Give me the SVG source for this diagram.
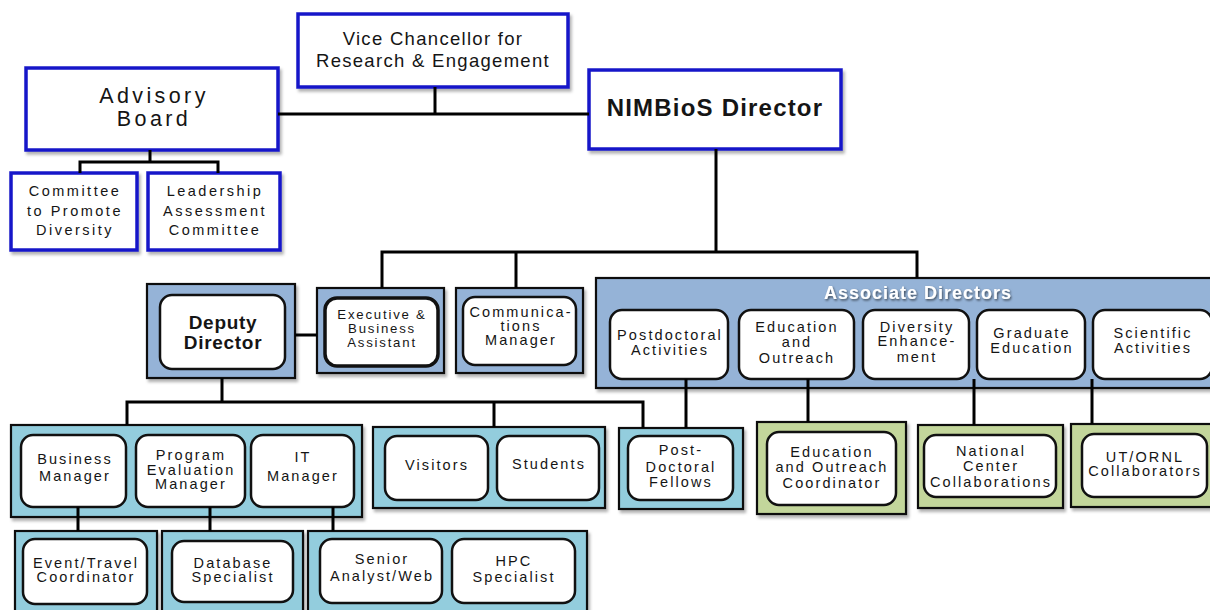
<svg xmlns="http://www.w3.org/2000/svg" width="1210" height="610" viewBox="0 0 1210 610">
<defs>
<filter id="sh" x="-10%" y="-10%" width="130%" height="140%"><feDropShadow dx="2" dy="3" stdDeviation="1.8" flood-color="#000" flood-opacity="0.3"/></filter>
<filter id="tsh" x="-10%" y="-30%" width="120%" height="170%"><feDropShadow dx="1" dy="1.5" stdDeviation="0.8" flood-color="#000" flood-opacity="0.6"/></filter>
<style>
.blue{fill:#fff;stroke:#1717c9;stroke-width:3.5}
.grp{stroke:#111;stroke-width:2.2}
.steel{fill:#95b3d7}
.cyan{fill:#93cddd}
.green{fill:#c3d69b}
.inner{fill:#fff;stroke:#111;stroke-width:2.5}
.conn path{stroke:#000;stroke-width:3;fill:none}
text{font-family:"Liberation Sans",Arial,sans-serif;fill:#151515;text-anchor:middle;dominant-baseline:central}
.t{font-size:14.5px;letter-spacing:2.1px}
.tc{font-size:14.5px;letter-spacing:2.5px}
.te{font-size:13.2px;letter-spacing:1.8px}
</style>
</defs>

<g id="vice"><rect class="blue" x="298" y="14" width="270" height="73" filter="url(#sh)"/>
<text x="433" y="38" style="font-size:18.5px;letter-spacing:1.3px">Vice Chancellor for</text>
<text x="433" y="60" style="font-size:18.5px;letter-spacing:1.3px">Research &amp; Engagement</text></g>

<g id="advisory"><rect class="blue" x="26" y="68" width="252" height="82" filter="url(#sh)"/>
<text x="154" y="96" style="font-size:21.5px;letter-spacing:3.4px">Advisory</text>
<text x="154" y="119" style="font-size:21.5px;letter-spacing:3.4px">Board</text></g>

<g id="director"><rect class="blue" x="589" y="70" width="252" height="79" filter="url(#sh)"/>
<text x="715" y="107" style="font-size:24px;font-weight:bold;letter-spacing:1.2px">NIMBioS Director</text></g>

<g id="committee"><rect class="blue" x="11" y="173" width="126" height="77" filter="url(#sh)"/>
<text class="tc" x="75" y="191">Committee</text><text class="tc" x="75" y="211">to Promote</text><text class="tc" x="75" y="230">Diversity</text></g>

<g id="leadership"><rect class="blue" x="148" y="173" width="132" height="77" filter="url(#sh)"/>
<text class="tc" x="215" y="191">Leadership</text><text class="tc" x="215" y="211">Assessment</text><text class="tc" x="215" y="230">Committee</text></g>

<g id="deputy"><rect class="grp steel" x="147" y="284" width="148" height="94" filter="url(#sh)"/>
<rect class="inner" x="160" y="295" width="125" height="74" rx="12"/>
<text x="223" y="322" style="font-size:19px;font-weight:bold;letter-spacing:0.7px">Deputy</text>
<text x="223" y="342" style="font-size:19px;font-weight:bold;letter-spacing:0.7px">Director</text></g>

<g id="exec"><rect class="grp steel" x="317" y="288" width="127" height="85" filter="url(#sh)"/>
<rect class="inner" x="325" y="298" width="113" height="68" rx="12" style="stroke-width:3.5"/>
<text class="te" x="382" y="314">Executive &amp;</text><text class="te" x="382" y="328">Business</text><text class="te" x="382" y="342">Assistant</text></g>

<g id="comm"><rect class="grp steel" x="456" y="288" width="127" height="85" filter="url(#sh)"/>
<rect class="inner" x="463" y="297" width="113" height="68" rx="12"/>
<text class="t" x="521" y="312">Communica-</text><text class="t" x="521" y="326">tions</text><text class="t" x="521" y="340">Manager</text></g>

<g id="associate"><rect class="grp steel" x="596" y="278" width="620" height="110" filter="url(#sh)"/>
<text x="918" y="293" filter="url(#tsh)" style="font-size:18px;font-weight:bold;letter-spacing:1px;fill:#fff">Associate Directors</text>
<g id="postdoc-act"><rect class="inner" x="610" y="310" width="118" height="69" rx="12"/>
<text class="t" x="670" y="335">Postdoctoral</text><text class="t" x="670" y="350">Activities</text></g>
<g id="edu-out"><rect class="inner" x="739" y="310" width="115" height="69" rx="12"/>
<text class="t" x="797" y="327">Education</text><text class="t" x="797" y="342">and</text><text class="t" x="797" y="358">Outreach</text></g>
<g id="diversity"><rect class="inner" x="863" y="310" width="106" height="69" rx="12"/>
<text class="t" x="917" y="327">Diversity</text><text class="t" x="917" y="341">Enhance-</text><text class="t" x="917" y="357">ment</text></g>
<g id="grad"><rect class="inner" x="977" y="310" width="108" height="69" rx="12"/>
<text class="t" x="1032" y="333">Graduate</text><text class="t" x="1032" y="348">Education</text></g>
<g id="sci"><rect class="inner" x="1093" y="310" width="119" height="69" rx="12"/>
<text class="t" x="1153" y="333">Scientific</text><text class="t" x="1153" y="348">Activities</text></g></g>

<g id="business-group"><rect class="grp cyan" x="11" y="425" width="351" height="92" filter="url(#sh)"/>
<g id="business"><rect class="inner" x="21" y="435" width="105" height="72" rx="12"/>
<text class="t" x="75" y="459">Business</text><text class="t" x="75" y="476">Manager</text></g>
<g id="program"><rect class="inner" x="136" y="435" width="109" height="72" rx="12"/>
<text class="t" x="191" y="455">Program</text><text class="t" x="191" y="470">Evaluation</text><text class="t" x="191" y="484">Manager</text></g>
<g id="it"><rect class="inner" x="251" y="435" width="103" height="72" rx="12"/>
<text class="t" x="303" y="457">IT</text><text class="t" x="303" y="476">Manager</text></g></g>

<g id="visitors-group"><rect class="grp cyan" x="373" y="427" width="232" height="81" filter="url(#sh)"/>
<g id="visitors"><rect class="inner" x="385" y="436" width="103" height="64" rx="12"/>
<text class="t" x="437" y="465">Visitors</text></g>
<g id="students"><rect class="inner" x="497" y="436" width="102" height="64" rx="12"/>
<text class="t" x="549" y="464">Students</text></g></g>

<g id="postdoc-fellows"><rect class="grp cyan" x="619" y="428" width="124" height="81" filter="url(#sh)"/>
<rect class="inner" x="628" y="436" width="105" height="64" rx="12"/>
<text class="t" x="681" y="450">Post-</text><text class="t" x="681" y="467">Doctoral</text><text class="t" x="681" y="482">Fellows</text></g>

<g id="edu-coord"><rect class="grp green" x="757" y="422" width="149" height="92" filter="url(#sh)"/>
<rect class="inner" x="767" y="432" width="129" height="73" rx="12"/>
<text class="t" x="832" y="452">Education</text><text class="t" x="832" y="467">and Outreach</text><text class="t" x="832" y="483">Coordinator</text></g>

<g id="national"><rect class="grp green" x="918" y="425" width="145" height="83" filter="url(#sh)"/>
<rect class="inner" x="924" y="435" width="132" height="62" rx="12"/>
<text class="t" x="991" y="451">National</text><text class="t" x="991" y="466">Center</text><text class="t" x="991" y="482">Collaborations</text></g>

<g id="utornl"><rect class="grp green" x="1071" y="424" width="145" height="83" filter="url(#sh)"/>
<rect class="inner" x="1082" y="434" width="125" height="63" rx="12"/>
<text class="t" x="1145" y="457">UT/ORNL</text><text class="t" x="1145" y="471">Collaborators</text></g>

<g id="event-group"><rect class="grp cyan" x="15" y="531" width="142" height="85" filter="url(#sh)"/>
<rect class="inner" x="23" y="539" width="124" height="65" rx="12"/>
<text class="t" x="86" y="563">Event/Travel</text><text class="t" x="86" y="577">Coordinator</text></g>

<g id="database-group"><rect class="grp cyan" x="162" y="531" width="141" height="85" filter="url(#sh)"/>
<rect class="inner" x="172" y="541" width="121" height="61" rx="12"/>
<text class="t" x="233" y="563">Database</text><text class="t" x="233" y="577">Specialist</text></g>

<g id="web-group"><rect class="grp cyan" x="308" y="531" width="279" height="85" filter="url(#sh)"/>
<g id="senior"><rect class="inner" x="320" y="539" width="122" height="64" rx="12"/>
<text class="t" x="382" y="559">Senior</text><text class="t" x="382" y="576">Analyst/Web</text></g>
<g id="hpc"><rect class="inner" x="452" y="539" width="123" height="64" rx="12"/>
<text class="t" x="514" y="561">HPC</text><text class="t" x="514" y="577">Specialist</text></g></g>

<g class="conn" id="connectors">
<path d="M278 114 H589"/>
<path d="M435 87 V114"/>
<path d="M150 150 V162 M80 173 V162 H218 V173"/>
<path d="M716 149 V252 M382 288 V252 H917 V278 M516 252 V288"/>
<path d="M295 335 H317"/>
<path d="M222 378 V402 M127 425 V402 H643 V428 M494 402 V427"/>
<path d="M686 379 V428"/>
<path d="M808 379 V422"/>
<path d="M974 379 V425"/>
<path d="M1092 379 V424"/>
<path d="M78 507 V531"/>
<path d="M210 507 V531"/>
<path d="M333 507 V531"/>
</g>
</svg>
